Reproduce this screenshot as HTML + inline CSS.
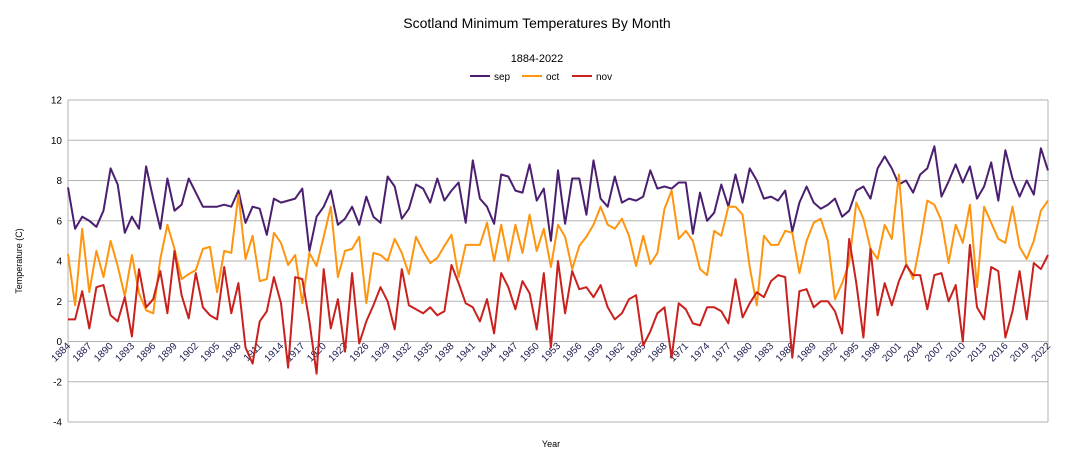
<!DOCTYPE html>
<html><head><meta charset="utf-8"><style>
body{margin:0;background:#fff;width:1075px;height:465px;overflow:hidden;font-family:"Liberation Sans",sans-serif}
svg{display:block}
</style></head><body>
<svg id="chart" width="1075" height="465" xmlns="http://www.w3.org/2000/svg">
<text x="537" y="28" text-anchor="middle" font-size="14" fill="#000">Scotland Minimum Temperatures By Month</text>
<text x="537" y="62" text-anchor="middle" font-size="11" fill="#000">1884-2022</text>
<g font-size="10" fill="#000">
<g><line x1="470" y1="76" x2="490" y2="76" stroke="#4b1f6f" stroke-width="2"/><text x="494" y="80">sep</text></g>
<g><line x1="522" y1="76" x2="542" y2="76" stroke="#ff950e" stroke-width="2"/><text x="546" y="80">oct</text></g>
<g><line x1="572" y1="76" x2="592" y2="76" stroke="#c9211e" stroke-width="2"/><text x="596" y="80">nov</text></g>
</g>
<text transform="translate(22,261) rotate(-90)" text-anchor="middle" font-size="9" fill="#000">Temperature (C)</text>
<text x="551" y="447" text-anchor="middle" font-size="9" fill="#000">Year</text>
<g id="grid"></g><g id="yticks"></g><g id="xticks"></g><g id="series"></g>
</svg>
<script>
const years=[];for(let y=1884;y<=2022;y++)years.push(y);
const yTicks=[-4,-2,0,2,4,6,8,10,12];
const sep=[7.65,5.6,6.2,6.0,5.7,6.5,8.6,7.8,5.4,6.2,5.6,8.7,7.1,5.6,8.1,6.5,6.8,8.1,7.4,6.7,6.7,6.7,6.8,6.7,7.5,5.9,6.7,6.6,5.3,7.1,6.9,7.0,7.1,7.6,
4.5,6.2,6.7,7.5,5.8,6.1,6.7,5.8,7.2,6.2,5.9,8.2,7.7,6.1,6.6,7.8,7.6,6.9,8.1,7.0,7.5,7.9,5.9,9.0,7.1,6.7,5.85,8.3,8.2,7.5,7.4,8.8,7.0,7.6,
5.0,8.5,5.85,8.1,8.1,6.3,9.0,7.1,6.7,8.2,6.9,7.1,7.0,7.2,8.5,7.6,7.7,7.6,7.9,7.9,5.35,7.4,6.0,6.4,7.8,6.7,8.3,6.9,8.6,8.0,7.1,7.2,7.0,
7.5,5.46,6.9,7.7,6.9,6.6,6.8,7.1,6.2,6.5,7.5,7.7,7.1,8.6,9.2,8.6,7.8,8.0,7.4,8.3,8.6,9.7,7.2,7.95,8.8,7.9,8.7,7.1,7.7,8.9,7.0,9.5,8.1,7.2,8.0,7.3,9.6,8.5];
const oct=[4.35,1.8,5.6,2.45,4.5,3.2,5.0,3.75,2.25,4.3,2.4,1.55,1.4,4.1,5.8,4.6,3.1,3.35,3.55,4.6,4.7,2.45,4.5,4.4,7.3,4.1,5.25,3.0,3.1,5.4,4.9,3.8,4.3,1.9,
4.4,3.75,5.2,6.7,3.2,4.5,4.6,5.2,1.9,4.4,4.3,4.0,5.1,4.4,3.35,5.2,4.5,3.9,4.15,4.75,5.3,3.2,4.8,4.8,4.8,5.9,4.0,5.8,4.0,5.8,4.4,6.3,4.5,5.6,
3.7,5.8,5.2,3.6,4.75,5.2,5.8,6.7,5.8,5.6,6.1,5.25,3.75,5.25,3.85,4.4,6.6,7.5,5.1,5.5,5.0,3.6,3.3,5.5,5.25,6.7,6.7,6.3,3.7,1.8,5.25,4.8,4.8,
5.5,5.4,3.4,5.0,5.9,6.1,5.0,2.1,2.9,3.9,6.9,6.1,4.6,4.1,5.8,5.1,8.3,3.9,3.1,4.9,7.0,6.8,6.0,3.9,5.8,4.9,6.8,2.7,6.7,5.9,5.1,4.9,6.7,4.7,4.1,5.0,6.5,7.0];
const nov=[1.1,1.1,2.5,0.65,2.7,2.8,1.3,1.0,2.2,0.25,3.6,1.7,2.1,3.5,1.4,4.5,2.3,1.15,3.4,1.7,1.3,1.1,3.7,1.4,2.9,-0.3,-1.1,1.0,1.5,3.2,1.9,-1.3,3.2,3.1,
1.0,-1.6,3.6,0.65,2.1,-0.5,3.4,-0.1,1.0,1.8,2.7,2.0,0.6,3.6,1.8,1.6,1.4,1.7,1.3,1.5,3.8,2.9,1.9,1.7,1.0,2.1,0.4,3.4,2.7,1.6,3.0,2.4,0.6,3.4,
-0.3,4.0,1.4,3.5,2.6,2.7,2.2,2.8,1.7,1.1,1.4,2.1,2.3,-0.2,0.5,1.4,1.7,-0.8,1.9,1.6,0.9,0.8,1.7,1.7,1.5,0.9,3.1,1.2,1.9,2.45,2.2,3.0,3.3,
3.2,-0.8,2.5,2.6,1.7,2.0,2.0,1.5,0.4,5.1,2.9,0.2,4.6,1.3,2.9,1.8,3.0,3.8,3.3,3.3,1.6,3.3,3.4,2.0,2.8,0.0,4.8,1.7,1.1,3.7,3.5,0.2,1.5,3.5,1.1,3.9,3.6,4.3];
const NS='http://www.w3.org/2000/svg';
const X0=68,X1=1048,Y12=100,Ym4=422;
function xs(i){return X0+i*(X1-X0)/(years.length-1);}
function ys(v){return Y12+(12-v)*(Ym4-Y12)/16;}
function mk(tag,attrs,parent){const e=document.createElementNS(NS,tag);for(const k in attrs)e.setAttribute(k,attrs[k]);parent.appendChild(e);return e;}
const grid=document.getElementById('grid'),yt=document.getElementById('yticks'),xt=document.getElementById('xticks'),sg=document.getElementById('series');
yTicks.forEach(v=>{
  const l=mk('line',{x1:X0,x2:X1,y1:ys(v),y2:ys(v),stroke:'#b3b3b3','stroke-width':1},grid);
  
  
  const t=mk('text',{x:X0-6,y:ys(v)+3.5,'text-anchor':'end','font-size':10,fill:'#000'},yt);
  t.textContent=v;
  
  
});
const ax=mk('line',{x1:X0,x2:X0,y1:Y12,y2:Ym4,stroke:'#b3b3b3'},grid);


const ax2=mk('line',{x1:X1,x2:X1,y1:Y12,y2:Ym4,stroke:'#b3b3b3'},grid);


years.forEach((y,i)=>{
  if(i%3!==0)return;
  const x=xs(i),y0=ys(0);
  const t=mk('text',{x:x+3,y:y0+5,'text-anchor':'end','font-size':10,fill:'#1c1c50',transform:`rotate(-45 ${x+3} ${y0+5})`},xt);
  t.textContent=y;
  
  
});
[[sep,'#4b1f6f','sep'],[oct,'#ff950e','oct'],[nov,'#c9211e','nov']].forEach(([d,c,n])=>{
  const p=mk('polyline',{points:d.map((v,i)=>xs(i).toFixed(1)+','+ys(v).toFixed(1)).join(' '),fill:'none',stroke:c,'stroke-width':2,'stroke-linejoin':'round'},sg);
  
  
});
</script>
</body></html>
